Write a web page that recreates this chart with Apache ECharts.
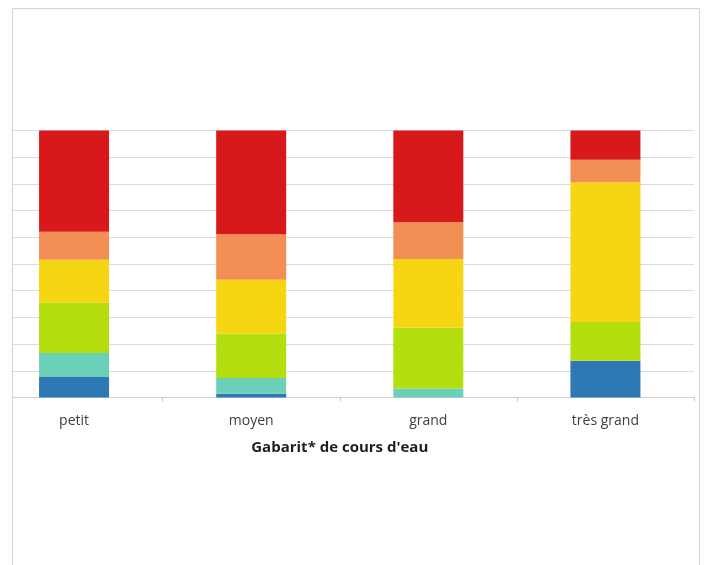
<!DOCTYPE html>
<html><head><meta charset="utf-8">
<script src="https://cdn.jsdelivr.net/npm/echarts@6/dist/echarts.min.js"></script>
<style>html,body{margin:0;padding:0;background:#fff;overflow:hidden}#c{position:absolute;left:-15px;top:0;width:719px;height:565px}</style>
</head><body><div id="c"></div>
<script>
const categories = ['petit', 'moyen', 'grand', 'très grand'];
const blue   = [7.7, 1.4, 0, 13.8];
const teal   = [9.0, 5.9, 3.4, 0];
const green  = [18.8, 16.7, 22.8, 14.5];
const yellow = [16.1, 20.1, 25.7, 52.2];
const orange = [10.5, 17.0, 13.7, 8.5];
const red    = [37.9, 38.9, 34.4, 11.0];
const yTicks = [0, 10, 20, 30, 40, 50, 60, 70, 80, 90, 100];

const seriesDefs = [
  ['s1', blue, '#2e78b5'],
  ['s2', teal, '#6bd0b8'],
  ['s3', green, '#b5de0e'],
  ['s4', yellow, '#f6d612'],
  ['s5', orange, '#f38f54'],
  ['s6', red, '#d7191c']
];

const OFF = 15; // div is shifted left by this many pixels
const chart = echarts.init(document.getElementById('c'));
chart.setOption({
  animation: false,
  backgroundColor: '#ffffff',
  grid: { left: 0.5, top: 130.5, width: 708.5, height: 267 },
  xAxis: {
    type: 'category', data: categories,
    axisLine: { lineStyle: { color: '#d0d0d0', width: 1 } },
    axisTick: { show: true, length: 4, lineStyle: { color: '#c8c8c8' } },
    axisLabel: { color: '#404040', fontSize: 14, fontFamily: 'Open Sans', margin: 17 },
    name: 'Gabarit* de cours d\'eau', nameLocation: 'middle', nameGap: 43,
    nameTextStyle: { color: '#1e1e1e', fontSize: 15, fontWeight: 'bold', fontFamily: 'Open Sans' }
  },
  yAxis: {
    type: 'value', min: yTicks[0], max: yTicks[yTicks.length - 1], interval: 10,
    axisLine: { show: false }, axisTick: { show: false }, axisLabel: { show: false },
    splitLine: { lineStyle: { color: '#dcdcdc', width: 1 } }
  },
  series: seriesDefs.map(([name, data, color]) => ({
    name, type: 'bar', stack: 'total', data, barWidth: 70,
    itemStyle: { color }
  })),
  graphic: [
    { type: 'rect', z: 100, shape: { x: 0, y: 0, width: OFF + 12, height: 565 }, style: { fill: '#ffffff' } },
    { type: 'rect', z: 101, shape: { x: OFF + 12.5, y: 8.5, width: 687, height: 600 },
      style: { fill: 'none', stroke: '#c9d6e3', lineWidth: 1 } }
  ]
});
</script></body></html>
